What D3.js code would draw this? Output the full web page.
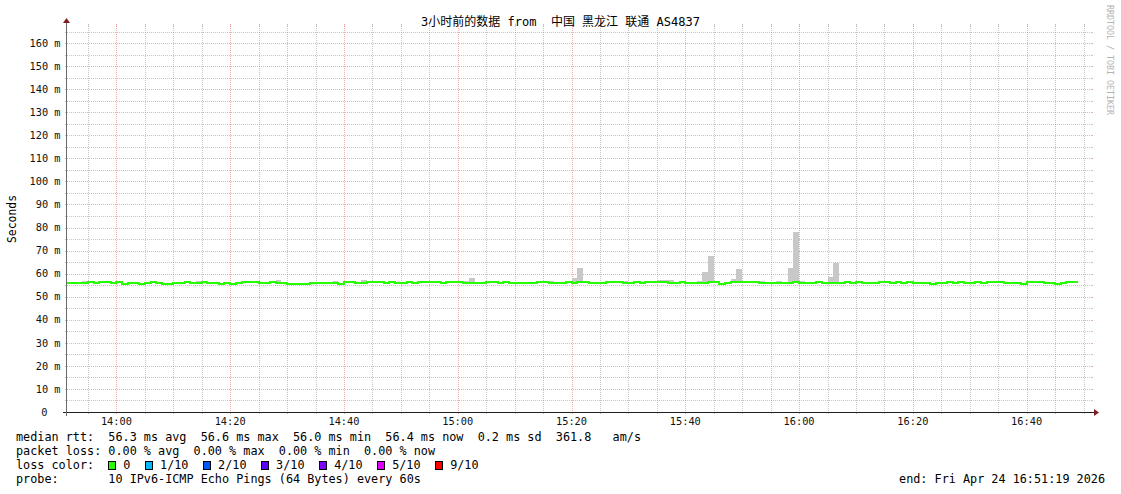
<!DOCTYPE html>
<html><head><meta charset="utf-8">
<script src="https://cdn.jsdelivr.net/npm/d3@7"></script>
<style>body{margin:0;background:#fff;} svg{display:block}</style>
</head><body><svg id="c" width="1121" height="494"></svg>
<script>
// ---------- data ----------
const title = "3小时前的数据 from  中国 黑龙江 联通 AS4837";
const yAxisLabel = "Seconds";
const watermark = "RRDTOOL / TOBI OETIKER";
const startTime = "2026-04-24T13:51:19";
const endTime = "2026-04-24T16:51:19";
const firstBin = "2026-04-24T13:51:00";
// median rtt per minute (ms)
const medianRtt = [
56.0,56.0,56.0,56.0,56.4,56.0,56.4,56.4,56.0,56.4,
55.6,56.0,56.0,55.6,56.0,56.4,56.0,55.6,55.6,56.0,
56.0,56.4,56.0,56.0,56.4,56.0,56.0,55.6,56.0,55.6,
56.0,56.4,56.4,56.4,56.0,56.0,56.4,56.0,56.0,55.6,
55.6,55.6,55.6,56.0,56.0,56.0,56.0,56.0,55.6,56.4,
56.4,56.0,56.0,56.4,56.4,56.4,56.0,56.4,56.0,56.0,
56.4,56.0,56.4,56.4,56.4,56.4,56.0,56.4,56.4,56.4,
56.0,56.0,56.0,56.0,56.4,56.4,56.0,56.4,56.0,56.0,
56.0,56.0,56.0,56.4,56.4,56.0,56.0,56.0,56.4,56.0,
56.4,56.4,56.0,56.0,56.0,56.4,56.4,56.4,56.0,56.0,
56.4,56.0,56.4,56.4,56.4,56.4,56.0,56.0,56.4,56.0,
56.0,56.0,56.0,56.4,56.4,55.5,56.0,56.4,56.4,56.4,
56.4,56.4,56.0,56.0,56.0,56.0,56.0,56.0,56.4,56.0,
56.0,56.0,56.4,56.0,56.0,56.0,56.0,56.4,56.0,56.4,
56.0,56.0,56.0,56.4,56.4,56.0,56.4,56.0,56.4,56.0,
56.0,56.0,55.6,56.0,56.0,56.4,56.0,56.4,56.0,56.0,
56.4,56.0,56.4,56.4,56.4,56.0,56.0,56.0,55.6,56.4,
56.4,56.4,56.0,56.0,55.6,56.0,56.4,56.4
];
// highest ping per minute (smoke top, ms)
const smokeTop = [
56.0,56.0,56.0,56.8,56.4,56.0,56.4,56.4,56.0,56.4,
55.6,56.0,56.0,55.6,56.0,56.4,56.0,55.6,55.6,56.0,
56.0,56.4,56.0,56.8,56.4,56.0,56.0,55.6,56.0,55.6,
56.0,56.4,56.4,56.4,56.0,56.0,56.4,57.2,56.0,55.6,
55.6,55.6,55.6,56.0,56.0,56.0,56.0,56.8,55.6,56.4,
56.4,56.0,57.4,56.4,56.4,56.4,56.0,56.4,56.0,56.0,
56.4,56.0,56.4,56.4,56.4,56.4,56.0,56.4,56.4,56.4,
56.8,58.2,56.0,56.0,56.4,56.4,56.0,56.4,56.0,56.0,
56.0,56.0,56.0,56.4,56.4,56.8,56.0,56.0,56.4,58.1,
62.4,56.4,56.0,56.0,56.0,56.4,56.4,56.4,56.8,56.0,
56.4,56.0,56.4,56.4,57.3,57.3,57.2,56.0,56.4,56.0,
56.0,56.8,60.7,67.6,56.4,55.5,56.0,57.7,62.0,56.4,
56.4,56.4,56.9,56.0,56.0,56.8,56.0,62.4,78.1,56.7,
56.0,56.0,56.4,56.0,58.5,64.6,56.0,56.4,56.0,56.4,
56.0,56.0,56.0,56.4,56.4,56.0,56.4,56.0,56.4,56.0,
56.0,56.0,55.6,56.0,56.0,56.4,56.0,56.4,56.0,56.0,
56.4,56.0,56.4,56.4,56.4,56.0,56.0,56.0,55.6,56.4,
56.4,56.4,56.0,56.0,55.6,56.0,56.4,56.4
];
const yTicks = [0,10,20,30,40,50,60,70,80,90,100,110,120,130,140,150,160];
const yTickLabels = ["0","10 m","20 m","30 m","40 m","50 m","60 m","70 m","80 m","90 m","100 m","110 m","120 m","130 m","140 m","150 m","160 m"];
const xTickLabels = ["14:00","14:20","14:40","15:00","15:20","15:40","16:00","16:20","16:40"];
const statsLines = [
  "median rtt:  56.3 ms avg  56.6 ms max  56.0 ms min  56.4 ms now  0.2 ms sd  361.8   am/s",
  "packet loss: 0.00 % avg  0.00 % max  0.00 % min  0.00 % now",
  "loss color:  ",
  "probe:       10 IPv6-ICMP Echo Pings (64 Bytes) every 60s"
];
const lossLabels = ["0","1/10","2/10","3/10","4/10","5/10","9/10"];
const lossColors = ["#26ff00","#00b8ff","#0059ff","#5e00ff","#7e00ff","#dd00ff","#ff0000"];
const endLabel = "end: Fri Apr 24 16:51:19 2026";

// ---------- drawing ----------
const svg = d3.select("#c");
const L = 67, R = 1091, T = 26, B = 412;
const mono = "'DejaVu Sans Mono', monospace";
const x = d3.scaleTime().domain([new Date(startTime), new Date(endTime)]).range([L, R]);
const y = d3.scaleLinear().domain([0, 167.4]).range([B, T]);
const px = v => Math.round(v) + 0.5;

const minorCol = "rgba(150,150,150,0.55)", majorCol = "rgba(230,90,90,0.5)";
const grid = svg.append("g").attr("shape-rendering", "crispEdges");

// horizontal grid
d3.range(5, 167, 5).forEach(v => {
  const major = v % 10 === 0;
  const yy = px(y(v));
  const col = major ? majorCol : minorCol;
  grid.append("line").attr("x1", L - 2).attr("x2", L).attr("y1", yy).attr("y2", yy).attr("stroke", col);
  grid.append("line").attr("x1", R).attr("x2", R + 2).attr("y1", yy).attr("y2", yy).attr("stroke", col);
  grid.append("line").attr("x1", L).attr("x2", R).attr("y1", yy).attr("y2", yy)
    .attr("stroke", col).attr("stroke-dasharray", "1,1");
});
// vertical grid
const t0 = new Date(startTime), t1 = new Date(endTime);
d3.timeMinute.every(5).range(t0, t1).forEach(t => {
  const major = t.getMinutes() % 20 === 0;
  const xx = px(x(t));
  const col = major ? majorCol : minorCol;
  grid.append("line").attr("x1", xx).attr("x2", xx).attr("y1", T - 2).attr("y2", T).attr("stroke", col);
  grid.append("line").attr("x1", xx).attr("x2", xx).attr("y1", B).attr("y2", B + 2).attr("stroke", col);
  grid.append("line").attr("x1", xx).attr("x2", xx).attr("y1", T).attr("y2", B)
    .attr("stroke", col).attr("stroke-dasharray", "1,1");
});

// clip
svg.append("clipPath").attr("id", "clip").append("rect")
  .attr("x", L).attr("y", T).attr("width", R - L).attr("height", B - T);
const plot = svg.append("g").attr("clip-path", "url(#clip)");

const bin0 = new Date(firstBin);
const binT = j => d3.timeMinute.offset(bin0, j);

// smoke
plot.append("g").attr("shape-rendering", "crispEdges")
  .selectAll("rect").data(smokeTop.map((v, j) => ({ j, top: v, med: medianRtt[j] })).filter(d => d.top > d.med))
  .join("rect")
  .attr("x", d => x(binT(d.j)))
  .attr("width", d => x(binT(d.j + 1)) - x(binT(d.j)))
  .attr("y", d => y(d.top))
  .attr("height", d => y(d.med) - y(d.top))
  .attr("fill", "#c8c8c8");

// median line
const pts = medianRtt.map((v, j) => [binT(j), v]);
pts.push([binT(medianRtt.length), medianRtt[medianRtt.length - 1]]);
plot.append("path").datum(pts)
  .attr("d", d3.line().x(d => x(d[0])).y(d => y(d[1])).curve(d3.curveStepAfter))
  .attr("fill", "none").attr("stroke", lossColors[0]).attr("stroke-width", 2)
  .attr("shape-rendering", "crispEdges");

// axes
const ax = svg.append("g").attr("shape-rendering", "crispEdges");
ax.append("line").attr("x1", L - 4).attr("x2", R + 4).attr("y1", B + 0.5).attr("y2", B + 0.5).attr("stroke", "#1f1f1f");
ax.append("line").attr("x1", L - 0.5).attr("x2", L - 0.5).attr("y1", B + 4).attr("y2", T - 4).attr("stroke", "#6a6a6a");
svg.append("path").attr("d", `M${R + 8},${B + 0.5}L${R + 3},${B - 3}L${R + 3},${B + 4}Z`).attr("fill", "#801f1f");
svg.append("path").attr("d", `M${L - 0.5},${T - 8}L${L - 4},${T - 3}L${L + 3},${T - 3}Z`).attr("fill", "#801f1f");

// y tick labels
svg.append("g").selectAll("text").data(yTicks).join("text")
  .attr("x", (d, i) => i === 0 ? 47.5 : 60.5)
  .attr("y", d => y(d) + 3.7)
  .attr("text-anchor", "end")
  .attr("font-family", mono).attr("font-size", "10.3px").attr("fill", "#111")
  .text((d, i) => yTickLabels[i]);

// x tick labels
const xTicks = d3.timeMinute.every(20).range(t0, t1);
svg.append("g").selectAll("text").data(xTicks).join("text")
  .attr("x", d => x(d)).attr("y", 425)
  .attr("text-anchor", "middle")
  .attr("font-family", mono).attr("font-size", "10.3px").attr("fill", "#111")
  .text((d, i) => xTickLabels[i]);

// title
svg.append("text").attr("x", 560.5).attr("y", 25.5).attr("text-anchor", "middle")
  .attr("font-family", "'DejaVu Sans Mono','Noto Sans CJK SC',monospace").attr("font-size", "12px")
  .attr("fill", "#000").attr("xml:space", "preserve").style("white-space", "pre").text(title);

// y axis label
svg.append("text").attr("transform", "translate(15.5,219) rotate(-90)").attr("text-anchor", "middle")
  .attr("font-family", mono).attr("font-size", "11.4px").attr("fill", "#000").text(yAxisLabel);

// watermark
svg.append("text").attr("transform", "translate(1107,5) rotate(90)").attr("text-anchor", "start")
  .attr("font-family", mono).attr("font-size", "8.3px").attr("fill", "#b3b3b3").text(watermark);

// legend
const cw = 7.105, lx = 16;
const legendY = [441, 455, 469, 483];
statsLines.forEach((s, i) => {
  svg.append("text").attr("x", lx).attr("y", legendY[i])
    .attr("font-family", mono).attr("font-size", "11.8px").attr("fill", "#000")
    .attr("xml:space", "preserve").style("white-space", "pre").text(s);
});
let cx = lx + statsLines[2].length * cw;
lossLabels.forEach((lab, i) => {
  svg.append("rect").attr("x", Math.round(cx) + 0.5).attr("y", 461.5).attr("width", 7).attr("height", 8)
    .attr("fill", lossColors[i]).attr("stroke", "#000").attr("shape-rendering", "crispEdges");
  svg.append("text").attr("x", cx + 15).attr("y", legendY[2])
    .attr("font-family", mono).attr("font-size", "11.8px").attr("fill", "#000").text(lab);
  cx = cx + 15 + lab.length * cw + 14.6;
});
svg.append("text").attr("x", 1105).attr("y", legendY[3]).attr("text-anchor", "end")
  .attr("font-family", mono).attr("font-size", "11.8px").attr("fill", "#000")
  .attr("xml:space", "preserve").style("white-space", "pre").text(endLabel);
</script>
</body></html>
